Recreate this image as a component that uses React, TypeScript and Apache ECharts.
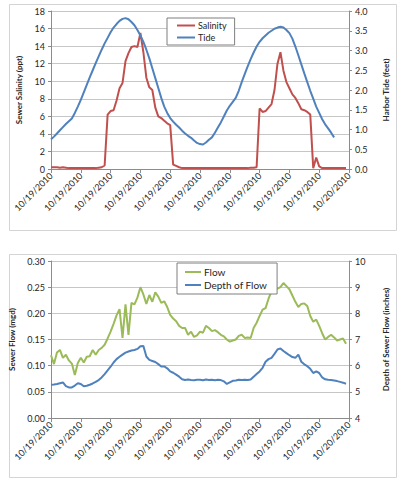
import React, { useEffect, useRef } from "react";
import * as echarts from "echarts";

const xTickLabels = [
  "10/19/2010", "10/19/2010", "10/19/2010", "10/19/2010", "10/19/2010", "10/19/2010",
  "10/19/2010", "10/19/2010", "10/19/2010", "10/19/2010", "10/20/2010",
];

// Sewer salinity (ppt), 101 samples across the day
const salinity = [
  0.2, 0.2, 0.2, 0.15, 0.2, 0.15, 0.1, 0.1, 0.1, 0.1,
  0.1, 0.1, 0.1, 0.1, 0.1, 0.1, 0.15, 0.2, 0.4, 6.2,
  6.6, 6.7, 7.8, 9.2, 9.8, 12.3, 13.2, 13.9, 14.0, 13.9,
  15.5, 13.3, 10.4, 9.3, 9.0, 7.0, 6.0, 5.8, 5.5, 5.2,
  5.0, 0.5, 0.35, 0.2, 0.1, 0.1, 0.1, 0.1, 0.1, 0.1,
  0.1, 0.1, 0.1, 0.1, 0.1, 0.1, 0.1, 0.1, 0.1, 0.1,
  0.1, 0.1, 0.1, 0.1, 0.1, 0.1, 0.1, 0.15, 0.15, 0.2,
  6.9, 6.5, 6.6, 7.0, 7.4, 9.0, 12.0, 13.3, 11.2, 9.9,
  9.2, 8.5, 8.1, 7.5, 6.8, 6.7, 6.5, 6.2, 0.1, 1.3,
  0.3, 0.1, 0.1, 0.1, 0.1, 0.1, 0.1, 0.1, 0.1, 0.1,
  null,
];

// Harbor tide (feet)
const tide = [
  0.75, 0.82, 0.90, 0.98, 1.06, 1.14, 1.21, 1.28, 1.42, 1.58,
  1.75, 1.94, 2.13, 2.32, 2.50, 2.68, 2.85, 3.02, 3.18, 3.32,
  3.46, 3.58, 3.67, 3.75, 3.80, 3.82, 3.79, 3.72, 3.64, 3.52,
  3.38, 3.22, 3.02, 2.80, 2.55, 2.30, 2.05, 1.80, 1.58, 1.42,
  1.29, 1.20, 1.12, 1.05, 0.97, 0.90, 0.84, 0.79, 0.72, 0.66,
  0.63, 0.62, 0.67, 0.74, 0.80, 0.92, 1.05, 1.18, 1.33, 1.48,
  1.60, 1.70, 1.80, 1.98, 2.20, 2.40, 2.60, 2.78, 2.95, 3.10,
  3.22, 3.31, 3.38, 3.45, 3.50, 3.55, 3.58, 3.60, 3.58, 3.52,
  3.44, 3.30, 3.10, 2.88, 2.65, 2.42, 2.20, 1.98, 1.78, 1.58,
  1.42, 1.26, 1.13, 1.03, 0.92, 0.80, null, null, null, null,
  null,
];

// Sewer flow (mgd)
const flow = [
  0.120, 0.103, 0.125, 0.130, 0.115, 0.121, 0.110, 0.104, 0.082, 0.105,
  0.115, 0.106, 0.117, 0.118, 0.130, 0.121, 0.130, 0.134, 0.140, 0.152,
  0.165, 0.180, 0.196, 0.208, 0.153, 0.217, 0.159, 0.220, 0.217, 0.230,
  0.250, 0.236, 0.218, 0.235, 0.222, 0.240, 0.232, 0.220, 0.223, 0.212,
  0.197, 0.190, 0.185, 0.176, 0.172, 0.172, 0.159, 0.165, 0.155, 0.158,
  0.165, 0.163, 0.176, 0.172, 0.166, 0.168, 0.164, 0.159, 0.156, 0.150,
  0.146, 0.148, 0.150, 0.157, 0.159, 0.153, 0.154, 0.153, 0.172, 0.182,
  0.195, 0.207, 0.210, 0.228, 0.242, 0.248, 0.247, 0.250, 0.258, 0.252,
  0.246, 0.234, 0.222, 0.212, 0.218, 0.219, 0.214, 0.195, 0.184, 0.188,
  0.176, 0.162, 0.150, 0.155, 0.159, 0.154, 0.148, 0.150, 0.152, 0.142,
  null,
];

// Depth of sewer flow (inches)
const depth = [
  5.27, 5.28, 5.30, 5.33, 5.36, 5.22, 5.17, 5.17, 5.24, 5.33,
  5.30, 5.21, 5.23, 5.27, 5.32, 5.38, 5.45, 5.55, 5.68, 5.82,
  5.96, 6.12, 6.25, 6.34, 6.42, 6.50, 6.54, 6.58, 6.60, 6.64,
  6.74, 6.75, 6.35, 6.22, 6.18, 6.14, 6.06, 5.97, 5.97, 5.90,
  5.78, 5.73, 5.66, 5.58, 5.48, 5.45, 5.47, 5.45, 5.44, 5.46,
  5.46, 5.44, 5.47, 5.45, 5.46, 5.44, 5.46, 5.45, 5.40, 5.30,
  5.36, 5.42, 5.43, 5.46, 5.45, 5.46, 5.45, 5.47, 5.58, 5.68,
  5.78, 5.92, 6.15, 6.25, 6.30, 6.45, 6.62, 6.66, 6.56, 6.48,
  6.40, 6.33, 6.30, 6.42, 6.15, 6.05, 5.98, 5.88, 5.72, 5.78,
  5.72, 5.55, 5.48, 5.46, 5.45, 5.43, 5.41, 5.38, 5.35, 5.31,
  null,
];

const categories = salinity.map((_, i) => String(i));

const FONT = "Lato, 'Liberation Sans', sans-serif";
const RED = "#C0504D";
const BLUE = "#4F81BD";
const GREEN = "#9BBB59";
const GRID_COLOR = "#c6c6c6";
const AXIS_COLOR = "#8c8c8c";
const TEXT = "#262626";

function xAxisFor(gridIndex: number) {
  return {
    type: "category",
    gridIndex,
    data: categories,
    boundaryGap: false,
    axisLine: { show: true, lineStyle: { color: AXIS_COLOR } },
    axisTick: { show: true, interval: 9, length: 4, lineStyle: { color: AXIS_COLOR } },
    axisLabel: {
      interval: 9,
      rotate: 45,
      fontSize: 9,
      fontFamily: FONT,
      color: TEXT,
      margin: 5,
      formatter: (_v: string, idx: number) => xTickLabels[Math.round(idx / 10)] ?? "",
    },
    splitLine: { show: false },
  };
}

function yAxis(gridIndex: number, pos: "left" | "right", min: number, max: number, interval: number, decimals: number, name: string, showSplit: boolean) {
  return {
    type: "value",
    gridIndex,
    position: pos,
    min,
    max,
    interval,
    name,
    nameLocation: "middle",
    nameRotate: 90,
    nameGap: pos === "left" ? 28 : 33,
    nameTextStyle: { fontSize: 8, fontWeight: "bold", fontFamily: FONT, color: TEXT },
    axisLine: { show: true, lineStyle: { color: AXIS_COLOR } },
    axisTick: { show: true, length: 3, lineStyle: { color: AXIS_COLOR } },
    axisLabel: {
      fontSize: 9,
      fontFamily: FONT,
      color: TEXT,
      margin: 6,
      formatter: (v: number) => v.toFixed(decimals),
    },
    splitLine: { show: showSplit, lineStyle: { color: GRID_COLOR, width: 1 } },
  };
}

export default function App() {
  const ref = useRef<HTMLDivElement>(null);
  useEffect(() => {
    if (!ref.current) return;
    const chart = echarts.init(ref.current, undefined, { renderer: "svg" });
    const lineSeries = (name: string, data: (number | null)[], color: string, x: number, y: number) => ({
      name,
      type: "line",
      xAxisIndex: x,
      yAxisIndex: y,
      data,
      showSymbol: false,
      symbol: "none",
      connectNulls: false,
      lineStyle: { color, width: 2 },
      itemStyle: { color },
      z: 3,
    });
    chart.setOption({
      animation: false,
      backgroundColor: "#ffffff",
      graphic: [
        { type: "rect", shape: { x: 9.5, y: 4.5, width: 387, height: 226 }, style: { fill: "none", stroke: "#d4d4d4", lineWidth: 1 }, z: -1 },
        { type: "rect", shape: { x: 9.5, y: 254.5, width: 387, height: 223 }, style: { fill: "none", stroke: "#d4d4d4", lineWidth: 1 }, z: -1 },
      ],
      grid: [
        { left: 51, top: 11, width: 310, height: 158 },
        { left: 51, top: 261, width: 310, height: 157 },
      ],
      legend: [
        {
          data: ["Salinity", "Tide"],
          orient: "vertical",
          left: 167,
          top: 18,
          itemWidth: 18,
          itemHeight: 2,
          itemGap: 3,
          icon: "rect",
          padding: [3, 8, 3, 10],
          borderColor: "#7f7f7f",
          borderWidth: 1,
          backgroundColor: "#ffffff",
          textStyle: { fontSize: 9, fontFamily: FONT, color: TEXT, padding: [0, 0, 0, -2] },
        },
        {
          data: ["Flow", "Depth of Flow"],
          orient: "vertical",
          left: 177,
          top: 263,
          itemWidth: 16,
          itemHeight: 2,
          itemGap: 3,
          icon: "rect",
          padding: [4, 10, 4, 8],
          borderColor: "#7f7f7f",
          borderWidth: 1,
          backgroundColor: "#ffffff",
          textStyle: { fontSize: 10, fontFamily: FONT, color: TEXT, padding: [0, 0, 0, -2] },
        },
      ],
      xAxis: [xAxisFor(0), xAxisFor(1)],
      yAxis: [
        yAxis(0, "left", 0, 18, 2, 0, "Sewer Salinity (ppt)", true),
        yAxis(0, "right", 0, 4, 0.5, 1, "Harbor Tide (feet)", false),
        yAxis(1, "left", 0, 0.3, 0.05, 2, "Sewer Flow (mgd)", true),
        yAxis(1, "right", 4, 10, 1, 0, "Depth of Sewer Flow (inches)", false),
      ],
      series: [
        lineSeries("Salinity", salinity, RED, 0, 0),
        lineSeries("Tide", tide, BLUE, 0, 1),
        lineSeries("Flow", flow, GREEN, 1, 2),
        lineSeries("Depth of Flow", depth, BLUE, 1, 3),
      ],
    });
    return () => chart.dispose();
  }, []);
  return (
    <div
      ref={ref}
      style={{ position: "absolute", left: 0, top: 0, width: 398, height: 479, background: "#fff" }}
    />
  );
}
